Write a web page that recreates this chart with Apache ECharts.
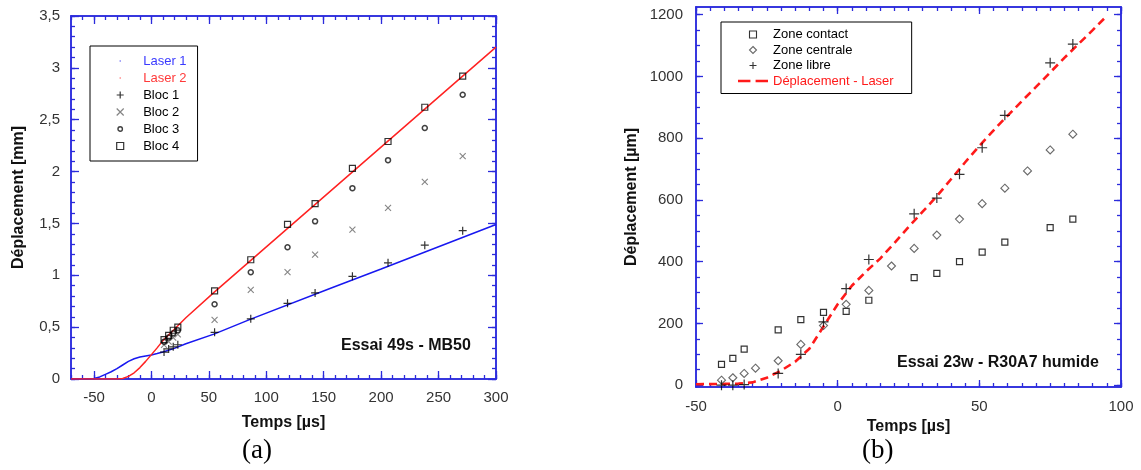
<!DOCTYPE html>
<html><head><meta charset="utf-8">
<script src="https://cdn.jsdelivr.net/npm/echarts@6/dist/echarts.min.js"></script>
<style>html,body{margin:0;padding:0;background:#fff}#c{width:1141px;height:470px}</style>
</head><body><div id="c"></div>
<script>
// ---------- Chart (a) : Essai 49s - MB50 ----------
const blocTimes = [11, 15, 19, 23, 55, 86.5, 118.5, 142.5, 175, 206, 238, 271];
const bloc1 = [0.26, 0.29, 0.31, 0.33, 0.45, 0.58, 0.73, 0.83, 0.99, 1.12, 1.29, 1.43];
const bloc2 = [0.33, 0.36, 0.40, 0.43, 0.57, 0.86, 1.03, 1.20, 1.44, 1.65, 1.90, 2.15];
const bloc3 = [0.36, 0.40, 0.44, 0.47, 0.72, 1.03, 1.27, 1.52, 1.84, 2.11, 2.42, 2.74];
const bloc4 = [0.38, 0.42, 0.47, 0.50, 0.85, 1.15, 1.49, 1.69, 2.03, 2.29, 2.62, 2.92];
const laser1T = [-70, -55, -50, -45, -40, -35, -30, -25, -20, -15, -10, -5, 0, 5, 10, 20, 30, 55, 86.5, 156, 200, 250, 300];
const laser1V = [0, 0, 0.005, 0.02, 0.045, 0.07, 0.10, 0.135, 0.17, 0.195, 0.212, 0.222, 0.232, 0.245, 0.26, 0.295, 0.34, 0.435, 0.577, 0.875, 1.06, 1.275, 1.49];
const laser2T = [-70, -30, -25, -20, -15, -10, -5, 0, 5, 10, 20, 30, 55, 300];
const laser2V = [0, 0, 0.005, 0.025, 0.06, 0.11, 0.17, 0.235, 0.30, 0.37, 0.48, 0.59, 0.84, 3.20];
const xTicksA = [-50, 0, 50, 100, 150, 200, 250, 300];
const yTicksA = [0, 0.5, 1, 1.5, 2, 2.5, 3, 3.5];

// ---------- Chart (b) : Essai 23w - R30A7 humide ----------
const contactT = [-41, -37, -33, -21, -13, -5, 3, 11, 27, 35, 43, 51, 59, 75, 83];
const contactV = [67, 87, 117, 179, 212, 236, 239, 275, 348, 362, 400, 431, 463, 510, 538];
const centraleT = [-41, -37, -33, -29, -21, -13, -5, 3, 11, 19, 27, 35, 43, 51, 59, 67, 75, 83];
const centraleV = [16, 24, 38, 55, 79, 132, 193, 262, 307, 386, 443, 486, 538, 588, 638, 694, 762, 813];
const libreT = [-41, -37, -33, -21, -13, -5, 3, 11, 27, 35, 43, 51, 59, 75, 83];
const libreV = [0, 0, 2, 38, 100, 205, 313, 407, 555, 606, 683, 769, 874, 1044, 1105];
const laserBT = [-50, -40, -35, -30, -25, -20, -15, -10, -5, 0, 5, 10, 15, 20, 25, 30, 35, 40, 45, 50, 57, 65, 70, 80, 90, 94];
const laserBV = [3, 4, 5, 9, 24, 47, 76, 118, 190, 262, 322, 368, 410, 460, 512, 562, 612, 667, 722, 775, 845, 920, 966, 1060, 1150, 1187];
const xTicksB = [-50, 0, 50, 100];
const yTicksB = [0, 200, 400, 600, 800, 1000, 1200];

const pairs = (t, v) => t.map((x, i) => [x, v[i]]);
const steps = (a, b, s) => { const r = []; for (let k = 0; a + k * s <= b + 1e-9; k++) r.push(Math.round((a + k * s) * 1000) / 1000); return r; };

const BLUE = '#2b2bdc';
const FONT = 'Liberation Sans';

function ax(grid, pos, min, max, ticks, len, opt) {
  opt = opt || {};
  return {
    type: 'value', gridIndex: grid, position: pos, min: min, max: max,
    axisLine: { show: true, onZero: false, lineStyle: { color: BLUE, width: 1.5 } },
    axisTick: { show: true, inside: true, length: len, customValues: ticks, lineStyle: { color: BLUE, width: 1.3 } },
    axisLabel: opt.labels ? { show: true, customValues: ticks, color: '#333', fontFamily: FONT, fontSize: 15, margin: opt.margin, formatter: opt.fmt } : { show: false },
    splitLine: { show: false },
    name: opt.name || '', nameLocation: 'middle', nameGap: opt.nameGap,
    nameTextStyle: { fontFamily: FONT, fontWeight: 'bold', fontSize: 16, color: '#111' }
  };
}
const comma = v => String(v).replace('.', ',');
const plain = v => String(v);

const xMinorA = steps(-70, 300, 10), yMinorA = steps(0, 3.5, 0.1);
const xMinorB = steps(-50, 100, 5), yMinorB = steps(0, 1200, 50);

const xAxis = [
  ax(0, 'bottom', -70, 300, xTicksA, 8, { labels: true, margin: 11, fmt: plain, name: 'Temps [µs]', nameGap: 36 }),
  ax(0, 'bottom', -70, 300, xMinorA, 4),
  ax(0, 'top', -70, 300, xTicksA, 8),
  ax(0, 'top', -70, 300, xMinorA, 4),
  ax(1, 'bottom', -50, 100, xTicksB, 7, { labels: true, margin: 12, fmt: plain, name: 'Temps [µs]', nameGap: 32 }),
  ax(1, 'bottom', -50, 100, xMinorB, 4),
  ax(1, 'top', -50, 100, xTicksB, 7),
  ax(1, 'top', -50, 100, xMinorB, 4)
];
const yAxis = [
  ax(0, 'left', 0, 3.5, yTicksA, 8, { labels: true, margin: 11, fmt: comma, name: 'Déplacement [mm]', nameGap: 44 }),
  ax(0, 'left', 0, 3.5, yMinorA, 4),
  ax(0, 'right', 0, 3.5, yTicksA, 8),
  ax(0, 'right', 0, 3.5, yMinorA, 4),
  ax(1, 'left', -6, 1225, yTicksB, 7, { labels: true, margin: 13, fmt: plain, name: 'Déplacement [µm]', nameGap: 56 }),
  ax(1, 'left', -6, 1225, yMinorB, 4),
  ax(1, 'right', -6, 1225, yTicksB, 7),
  ax(1, 'right', -6, 1225, yMinorB, 4)
];

const PLUS = 'path://M0,5L10,5M5,0L5,10';
const CROSS = 'path://M0,0L10,10M10,0L0,10';
const SQUARE = 'path://M0,0L10,0L10,10L0,10Z';
const DIAMOND = 'path://M5,0L10,5L5,10L0,5Z';
const DOT = 'path://M0,0L0,0.01M10,10L10,10.01M4.2,4.2L5.8,4.2L5.8,5.8L4.2,5.8Z';
const SMALLCIRCLE = 'path://M0,0L0,0.01M10,10L10,10.01M5,1.8A3.2,3.2,0,1,1,4.99,1.8Z';
const DASHES = 'path://M0,0L12,0L12,2.6L0,2.6ZM17,0L29,0L29,2.6L17,2.6Z';
const NOFILL = 'rgba(0,0,0,0)';

function scat(name, data, xi, symbol, size, color, bw) {
  return { type: 'scatter', name: name, xAxisIndex: xi, yAxisIndex: xi, data: data, symbol: symbol, symbolSize: size,
    itemStyle: { color: NOFILL, borderColor: color, borderWidth: bw }, z: 3, animation: false };
}

const series = [
  { type: 'line', name: 'Laser 1', xAxisIndex: 0, yAxisIndex: 0, data: pairs(laser1T, laser1V), showSymbol: false, symbol: 'none',
    lineStyle: { color: '#1818f0', width: 1.5 }, itemStyle: { color: '#1818f0' }, animation: false, z: 2 },
  { type: 'line', name: 'Laser 2', xAxisIndex: 0, yAxisIndex: 0, data: pairs(laser2T, laser2V), showSymbol: false, symbol: 'none',
    lineStyle: { color: '#ff2222', width: 1.5 }, itemStyle: { color: '#ff2222' }, animation: false, z: 2 },
  scat('Bloc 1', pairs(blocTimes, bloc1), 0, PLUS, 8, '#000', 1.2),
  scat('Bloc 2', pairs(blocTimes, bloc2), 0, CROSS, 6, '#666', 1.1),
  scat('Bloc 3', pairs(blocTimes, bloc3), 0, 'circle', 5, '#111', 1.5),
  scat('Bloc 4', pairs(blocTimes, bloc4), 0, SQUARE, 6, '#000', 1.2),
  scat('Zone contact', pairs(contactT, contactV), 4, SQUARE, 6, '#000', 1.2),
  scat('Zone centrale', pairs(centraleT, centraleV), 4, DIAMOND, 8, '#444', 1.1),
  scat('Zone libre', pairs(libreT, libreV), 4, PLUS, 10, '#000', 1.2),
  { type: 'line', name: 'Déplacement - Laser', xAxisIndex: 4, yAxisIndex: 4, data: pairs(laserBT, laserBV), showSymbol: false, symbol: 'none',
    lineStyle: { color: '#ff1a1a', width: 2.6, type: [8, 5] }, itemStyle: { color: '#ff1a1a' }, animation: false, z: 2 }
];

const chart = echarts.init(document.getElementById('c'));
chart.setOption({
  animation: false,
  backgroundColor: '#fff',
  grid: [
    { left: 71, top: 16, width: 425, height: 363 },
    { left: 696, top: 7, width: 425, height: 380 }
  ],
  xAxis: xAxis,
  yAxis: yAxis,
  legend: [
    { orient: 'vertical', left: 90, top: 46, padding: [7, 11, 7, 26], itemWidth: 36, itemHeight: 7, itemGap: 1,
      borderColor: '#000', borderWidth: 1, selectedMode: false,
      itemStyle: { borderWidth: 1.2 },
      textStyle: { fontFamily: FONT, fontSize: 13, color: '#000', lineHeight: 16 },
      data: [
        { name: 'Laser 1', icon: DOT, itemStyle: { color: '#1818f0', borderWidth: 0 }, textStyle: { color: '#3a3aff' } },
        { name: 'Laser 2', icon: DOT, itemStyle: { color: '#ff2222', borderWidth: 0 }, textStyle: { color: '#ff3a3a' } },
        { name: 'Bloc 1' }, { name: 'Bloc 2' },
        { name: 'Bloc 3', icon: SMALLCIRCLE, itemStyle: { borderWidth: 1.4 } },
        { name: 'Bloc 4' }
      ] },
    { orient: 'vertical', left: 721, top: 22, padding: [5, 18, 5, 17], itemWidth: 30, itemHeight: 7, itemGap: 0.5,
      borderColor: '#000', borderWidth: 1, selectedMode: false,
      itemStyle: { borderWidth: 1.1 },
      textStyle: { fontFamily: FONT, fontSize: 13, color: '#000', lineHeight: 15 },
      data: [
        { name: 'Zone contact' }, { name: 'Zone centrale' }, { name: 'Zone libre' },
        { name: 'Déplacement - Laser', icon: DASHES, itemStyle: { color: '#ff1a1a', borderWidth: 0 }, textStyle: { color: '#ff1a1a' } }
      ] }
  ],
  graphic: [
    { type: 'text', left: 341, top: 338, style: { text: 'Essai 49s - MB50', font: 'bold 16px "Liberation Sans"', fill: '#111' } },
    { type: 'text', left: 897, top: 355, style: { text: 'Essai 23w - R30A7 humide', font: 'bold 16px "Liberation Sans"', fill: '#111' } },
    { type: 'text', left: 242, top: 437, style: { text: '(a)', font: '27px "Liberation Serif"', fill: '#000' } },
    { type: 'text', left: 862, top: 437, style: { text: '(b)', font: '27px "Liberation Serif"', fill: '#000' } }
  ],
  series: series
});
</script></body></html>
